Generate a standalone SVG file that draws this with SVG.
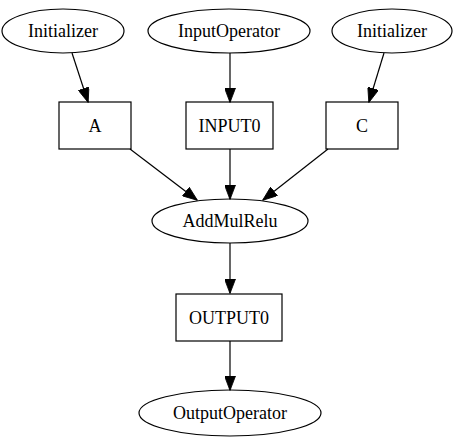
<svg xmlns="http://www.w3.org/2000/svg" width="457" height="443" viewBox="0 0 457 443">
<style>
.n ellipse, .n rect { fill: none; stroke: #000; stroke-width: 1.2; }
.n text { font-family: "Liberation Serif", "Times New Roman", serif; font-size: 18px; fill: #000; text-anchor: middle; }
.e line { stroke: #000; stroke-width: 1.2; marker-end: url(#ah); }
</style>
<defs>
<marker id="ah" markerUnits="userSpaceOnUse" markerWidth="15" markerHeight="11" viewBox="0 0 14 10.6" refX="13.5" refY="5.3" orient="auto">
<path d="M0,0 L14,5.3 L0,10.6 z" fill="#000" stroke="#000" stroke-width="0.8"/>
</marker>
</defs>
<rect width="457" height="443" fill="#fff"/>
<g class="e" id="edges">
<line x1="72" y1="53" x2="88" y2="102"/>
<line x1="230" y1="53" x2="230" y2="102"/>
<line x1="384" y1="53" x2="369" y2="102"/>
<line x1="130" y1="149" x2="197" y2="200"/>
<line x1="230" y1="149" x2="230" y2="199"/>
<line x1="328" y1="149" x2="263" y2="200"/>
<line x1="230" y1="243" x2="230" y2="293"/>
<line x1="230" y1="341" x2="230" y2="390"/>
</g>
<g class="n" id="init_a"><ellipse cx="63" cy="31" rx="61" ry="22"/><text x="63" y="37">Initializer</text></g>
<g class="n" id="input_op"><ellipse cx="229" cy="31" rx="81" ry="22"/><text x="229" y="37">InputOperator</text></g>
<g class="n" id="init_c"><ellipse cx="392" cy="31" rx="60" ry="22"/><text x="392" y="37">Initializer</text></g>
<g class="n" id="A"><rect x="59" y="102" width="72" height="47"/><text x="95" y="131.5">A</text></g>
<g class="n" id="INPUT0"><rect x="186" y="102" width="87" height="47"/><text x="229.5" y="131.5">INPUT0</text></g>
<g class="n" id="C"><rect x="326" y="102" width="72" height="47"/><text x="362" y="131.5">C</text></g>
<g class="n" id="addmulrelu"><ellipse cx="230" cy="221" rx="78" ry="22"/><text x="230" y="227">AddMulRelu</text></g>
<g class="n" id="OUTPUT0"><rect x="176" y="294" width="106" height="47"/><text x="229" y="323.5">OUTPUT0</text></g>
<g class="n" id="output_op"><ellipse cx="230" cy="413" rx="91" ry="23"/><text x="230" y="419">OutputOperator</text></g>
</svg>
